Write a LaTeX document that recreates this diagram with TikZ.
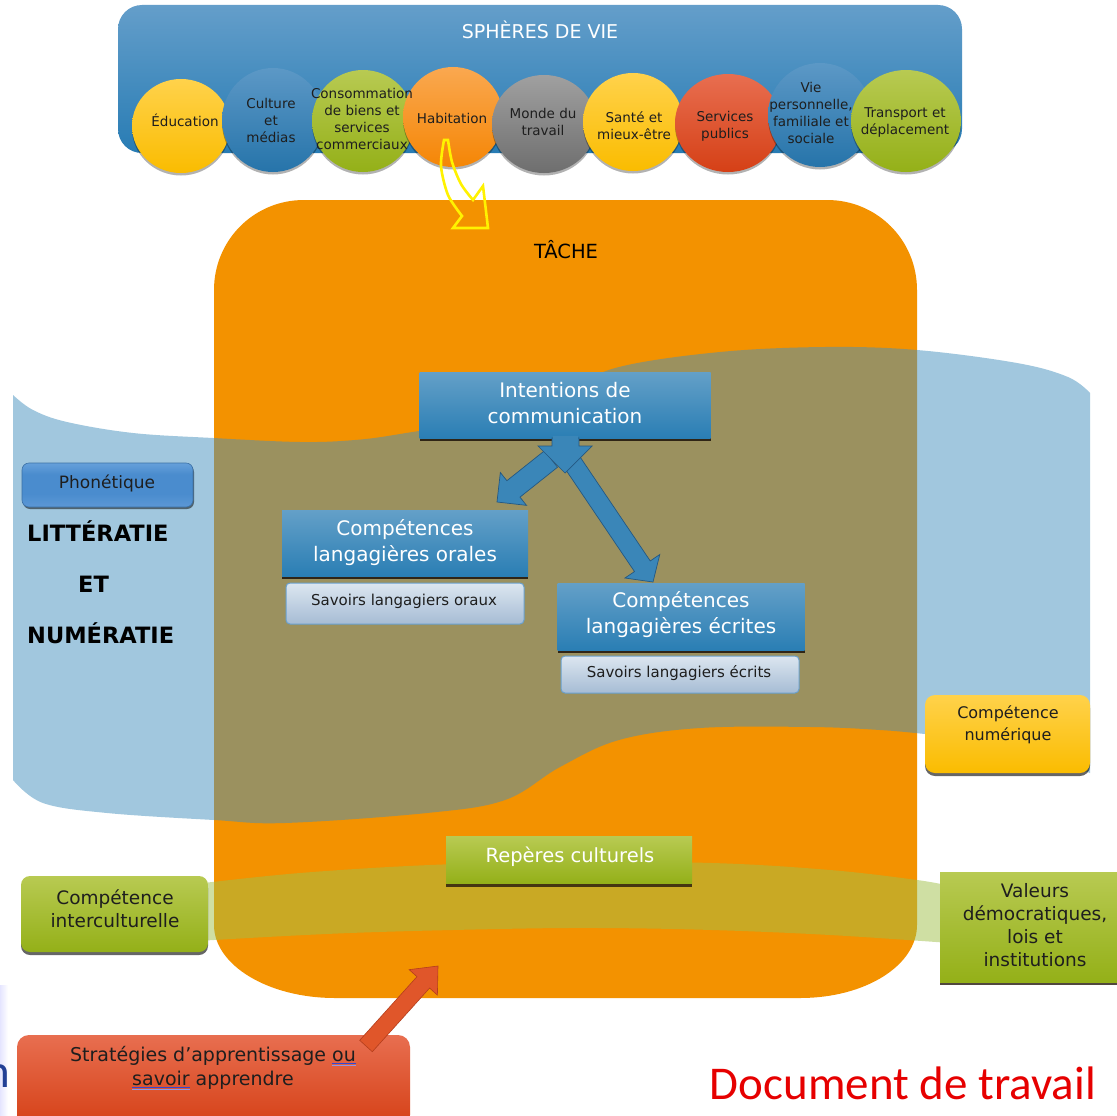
\documentclass[tikz,border=0pt]{standalone}
\usepackage{fontspec}
\setmainfont{DejaVu Sans}
\newfontfamily\calib{Carlito}
\usetikzlibrary{shapes.geometric,calc,shadows}

\definecolor{bantop}{RGB}{100,158,202}
\definecolor{banbot}{RGB}{40,124,180}
\definecolor{yeltop}{RGB}{255,210,75}
\definecolor{yelbot}{RGB}{250,188,0}
\definecolor{blutop}{RGB}{92,152,198}
\definecolor{blubot}{RGB}{38,116,170}
\definecolor{grntop}{RGB}{184,202,82}
\definecolor{grnbot}{RGB}{148,176,24}
\definecolor{orgtop}{RGB}{250,168,80}
\definecolor{orgbot}{RGB}{245,134,5}
\definecolor{gratop}{RGB}{160,160,160}
\definecolor{grabot}{RGB}{110,110,110}
\definecolor{redtop}{RGB}{232,110,80}
\definecolor{redbot}{RGB}{213,64,22}
\definecolor{tache}{RGB}{243,146,0}
\definecolor{bandblue}{RGB}{68,145,190}
\definecolor{bandgreen}{RGB}{160,192,72}
\definecolor{boxtop}{RGB}{100,160,200}
\definecolor{boxbot}{RGB}{42,126,180}
\definecolor{savtop}{RGB}{220,230,240}
\definecolor{savbot}{RGB}{166,188,212}
\definecolor{savline}{RGB}{105,160,205}
\definecolor{arrblue}{RGB}{58,134,184}
\definecolor{arredge}{RGB}{36,88,130}
\definecolor{phtop}{RGB}{155,198,240}
\definecolor{phmid}{RGB}{74,140,206}
\definecolor{phbot}{RGB}{122,172,228}
\definecolor{docred}{RGB}{230,0,0}
\definecolor{ulblue}{RGB}{50,70,210}
\definecolor{txtdark}{RGB}{30,30,30}
\definecolor{redarr}{RGB}{224,86,42}
\definecolor{redarredge}{RGB}{180,62,28}
\definecolor{edgeblue}{RGB}{35,65,150}

\pgfdeclareverticalshading{phon}{100bp}{color(0bp)=(phbot); color(40bp)=(phmid); color(62bp)=(phmid); color(100bp)=(phtop)}

\newcommand\dblul[1]{\setbox0=\hbox{#1}\rlap{\color{ulblue}\rule[-2.6pt]{\wd0}{0.9pt}}\rlap{\color{ulblue!55}\rule[-4.4pt]{\wd0}{0.9pt}}\box0\relax}

\newcommand\blockarrow[6]{%
  \coordinate (ba-b) at ($(#3)!#6!(#2)$);
  \path[#1] ($(#2)!#4!90:(#3)$) -- ($(ba-b)!#4!90:(#3)$) -- ($(ba-b)!#5!90:(#3)$) -- (#3)
    -- ($(ba-b)!#5!-90:(#3)$) -- ($(ba-b)!#4!-90:(#3)$) -- ($(#2)!#4!-90:(#3)$) -- cycle;}

\tikzset{
  circ/.style={ellipse, inner sep=0pt, draw=none,
    drop shadow={shadow xshift=0pt, shadow yshift=-2.5pt, opacity=0.3, fill=black}},
  ctext/.style={text=txtdark, align=center, inner sep=0pt, font=\fontsize{13.5}{17}\selectfont},
  banner/.style={rectangle, rounded corners=24pt, inner sep=0pt, top color=bantop, bottom color=banbot},
  bluebox/.style={rectangle, inner sep=0pt, top color=boxtop, bottom color=boxbot,
    drop shadow={shadow xshift=0pt, shadow yshift=-3pt, opacity=0.85, fill=black!85!brown}},
  btext/.style={text=white, align=center, inner sep=0pt, font=\fontsize{20}{26}\selectfont},
  savbox/.style={rectangle, rounded corners=4pt, inner sep=0pt, top color=savtop, bottom color=savbot,
    draw=savline, line width=1pt},
  stext/.style={text=txtdark, inner sep=0pt, font=\fontsize{15}{18}\selectfont},
  grnbox/.style={rectangle, inner sep=0pt, top color=grntop, bottom color=grnbot,
    drop shadow={shadow xshift=0pt, shadow yshift=-3pt, opacity=0.8, fill=black!80!brown}},
  gtext/.style={text=txtdark, align=center, inner sep=0pt, font=\fontsize{18.5}{23}\selectfont},
  bigletters/.style={anchor=base west, inner sep=0pt, text=black, font=\bfseries\fontsize{22.5}{26}\selectfont},
  bluearrow/.style={fill=arrblue, draw=arredge, line width=0.7pt, line join=miter},
}

\begin{document}
\begin{tikzpicture}[x=1pt,y=-1pt]
\useasboundingbox (0,0) rectangle (1117,1116);
\fill[white] (0,0) rectangle (1117,1116);

% faint strip and cut letter at the left edge
\fill[left color=blue!10, right color=white] (0,985) rectangle (8,1116);
\node[anchor=base east, inner sep=0pt, text=edgeblue, font=\calib\fontsize{47}{50}\selectfont] (cutn) at (10,1087) {n};

% ===== Sphères de vie =====
\node[banner, minimum width=844pt, minimum height=148pt] (ban) at (540,79) {};
\node[text=white, inner sep=0pt, font=\fontsize{19}{22}\selectfont] (bant) at (540,30) {SPHÈRES DE VIE};

\node[circ, minimum width=98pt, minimum height=94pt, top color=yeltop, bottom color=yelbot] (edu) at (181,126) {};
\node[circ, minimum width=102pt, minimum height=104pt, top color=blutop, bottom color=blubot] (cul) at (273,120) {};
\node[circ, minimum width=102pt, minimum height=102pt, top color=grntop, bottom color=grnbot] (con) at (363,121) {};
\node[circ, minimum width=100pt, minimum height=100pt, top color=orgtop, bottom color=orgbot] (hab) at (453,117) {};
\node[circ, minimum width=104pt, minimum height=98pt, top color=gratop, bottom color=grabot] (mon) at (544,124) {};
\node[circ, minimum width=100pt, minimum height=98pt, top color=yeltop, bottom color=yelbot] (san) at (633,122) {};
\node[circ, minimum width=106pt, minimum height=98pt, top color=redtop, bottom color=redbot] (ser) at (728,123) {};
\node[circ, minimum width=104pt, minimum height=104pt, top color=blutop, bottom color=blubot] (vie) at (820,115) {};
\node[circ, minimum width=110pt, minimum height=102pt, top color=grntop, bottom color=grnbot] (tra) at (906,121) {};

\node[ctext] (edut) at (185,120) {Éducation};
\node[ctext] (cult) at (271,120) {Culture\\et\\médias};
\node[ctext] (cont) at (362,119) {Consommation\\de biens et\\services\\commerciaux};
\node[ctext] (habt) at (452,118) {Habitation};
\node[ctext] (mont) at (543,122) {Monde du\\travail};
\node[ctext] (sant) at (634,126) {Santé et\\mieux-être};
\node[ctext] (sert) at (725,126) {Services\\publics};
\node[ctext] (viet) at (811,113) {Vie\\personnelle,\\familiale et\\sociale};
\node[ctext] (trat) at (905,122) {Transport et\\déplacement};

% ===== Tâche =====
\fill[tache] (214,290) .. controls (214,240) and (254,200) .. (304,200) -- (827,200)
  .. controls (877,200) and (917,240) .. (917,290) -- (917,925)
  .. controls (917,965) and (866,998) .. (800,998) -- (335,998)
  .. controls (268,998) and (214,965) .. (214,925) -- cycle;
\coordinate (tache) at (566,600);

% yellow curved arrow from Habitation
\draw[yellow, line width=2.6pt, line join=miter]
  plot[smooth] coordinates {(444,140) (441,166) (448,195) (462,216)}
  -- (453,228) -- (488,228) -- (483,186)
  -- plot[smooth] coordinates {(473,200) (461,184) (452,162) (448,140)} -- cycle;

% literacy band
\fill[bandblue, fill opacity=0.5]
  plot[smooth, tension=0.6] coordinates {(13,395) (33,410) (67,422) (133,433) (213,438) (300,442) (355,440) (400,434) (469,421) (560,392) (619,367) (720,352) (825,347) (917,350) (1017,363) (1068,377) (1090,393)}
  -- (1090,773)
  -- plot[smooth, tension=0.6] coordinates {(1090,773) (1000,742) (925,734) (880,730) (811,727) (700,728) (619,740) (560,767) (505,800) (427,813) (285,823) (214,820) (107,813) (43,803) (13,780)}
  -- cycle;

% culture band
\fill[bandgreen, fill opacity=0.5]
  plot[smooth, tension=0.6] coordinates {(195,884) (300,873) (430,865) (560,862) (712,863) (830,870) (917,880) (950,886)}
  -- plot[smooth, tension=0.6] coordinates {(950,943) (830,935) (712,930) (600,928) (499,929) (350,933) (214,940) (195,942)}
  -- cycle;

\node[inner sep=0pt, text=black, font=\fontsize{19.5}{22}\selectfont] (tachet) at (566,250) {TÂCHE};

% ===== communication =====
\node[bluebox, minimum width=291pt, minimum height=66pt] (int) at (565,405) {};
\node[btext] (intt) at (565,403) {Intentions de\\communication};

\node[bluebox, minimum width=246pt, minimum height=66pt] (ora) at (405,543) {};
\node[btext] (orat) at (405,543) {Compétences\\langagières orales};
\node[savbox, minimum width=238pt, minimum height=41pt] (sor) at (405,603.5) {};
\node[stext] (sort) at (404,601) {Savoirs langagiers oraux};

\node[bluebox, minimum width=247pt, minimum height=67pt] (ecr) at (681,616.5) {};
\node[btext] (ecrt) at (681,615) {Compétences\\langagières écrites};
\node[savbox, minimum width=238pt, minimum height=37pt] (sec) at (680,674.5) {};
\node[stext] (sect) at (679,673) {Savoirs langagiers écrits};

% block arrows
\coordinate (la-s) at (551,459);
\coordinate (la-t) at (497,502);
\blockarrow{bluearrow}{la-s}{la-t}{10.5pt}{21pt}{21pt}
\coordinate (ra-s) at (572,462);
\coordinate (ra-t) at (653,582);
\blockarrow{bluearrow}{ra-s}{ra-t}{9.5pt}{21pt}{19pt}
\path[bluearrow] (552,438) -- (579,438) -- (579,446) -- (592,446) -- (565,473) -- (538,446) -- (552,446) -- cycle;
\fill[arrblue] (553,436) rectangle (578,445);

% ===== literacy side =====
\node[rectangle, rounded corners=7pt, inner sep=0pt, shade, shading=phon, draw=phmid!80!black, line width=0.6pt,
  minimum width=171pt, minimum height=44pt,
  drop shadow={shadow xshift=1pt, shadow yshift=-2pt, opacity=0.5, fill=black}] (pho) at (107.5,485) {};
\node[inner sep=0pt, text=txtdark, font=\fontsize{17}{20}\selectfont] (phot) at (107,483) {Phonétique};

\node[bigletters] (lit) at (27,541) {LITTÉRATIE};
\node[bigletters] (et) at (78,592) {ET};
\node[bigletters] (num) at (27,643) {NUMÉRATIE};

\node[rectangle, rounded corners=10pt, inner sep=0pt, top color=yeltop, bottom color=yelbot,
  minimum width=165pt, minimum height=78pt,
  drop shadow={shadow xshift=0pt, shadow yshift=-3pt, opacity=0.6, fill=black}] (nmq) at (1007.5,734) {};
\node[text=txtdark, align=center, inner sep=0pt, font=\fontsize{16}{22}\selectfont] (nmqt) at (1008,725) {Compétence\\numérique};

% ===== culture =====
\node[grnbox, minimum width=246pt, minimum height=47pt] (rep) at (569,860) {};
\node[text=white, inner sep=0pt, font=\fontsize{19.5}{22}\selectfont] (rept) at (570,857) {Repères culturels};

\node[rectangle, rounded corners=9pt, inner sep=0pt, top color=grntop, bottom color=grnbot,
  minimum width=187pt, minimum height=76pt,
  drop shadow={shadow xshift=0pt, shadow yshift=-3pt, opacity=0.6, fill=black}] (itc) at (114.5,914) {};
\node[gtext] (itct) at (115,909) {Compétence\\interculturelle};

\node[grnbox, minimum width=182pt, minimum height=110pt] (val) at (1031,927) {};
\node[gtext] (valt) at (1035,925) {Valeurs\\démocratiques,\\lois et\\institutions};

% ===== strategies =====
\node[rectangle, rounded corners=12pt, inner sep=0pt, top color=redtop, bottom color=redbot,
  minimum width=393pt, minimum height=92pt] (str) at (213.5,1081) {};
\node[text=txtdark, align=center, inner sep=0pt, font=\fontsize{19}{24}\selectfont] (strt) at (213,1068)
  {Stratégies d’apprentissage \dblul{ou}\\\dblul{savoir} apprendre};
\coordinate (rs) at (366,1046);
\coordinate (rt) at (438,966);
\blockarrow{fill=redarr, draw=redarredge, line width=0.6pt}{rs}{rt}{8.5pt}{19pt}{22pt}

\node[inner sep=0pt, text=docred, font=\calib\fontsize{47}{50}\selectfont] (doc) at (903,1083) {Document de travail};
\end{tikzpicture}
\end{document}
